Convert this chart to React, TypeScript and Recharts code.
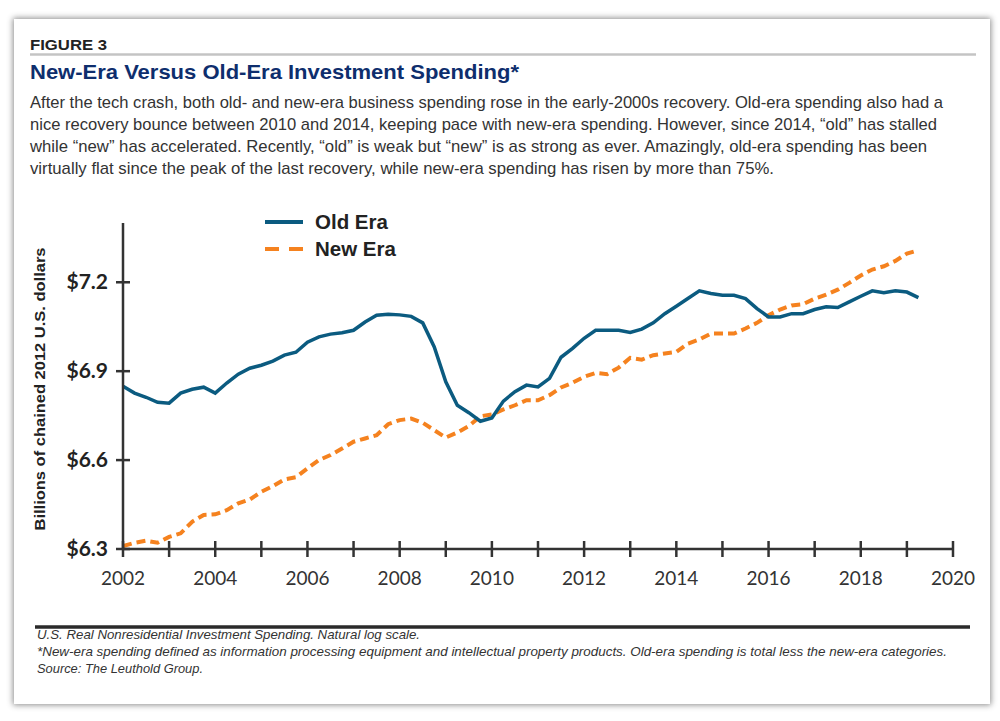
import { Legend, Line, LineChart, XAxis, YAxis } from 'recharts';

/* Quarterly readings, natural-log scale. */
const QUARTERS = [
  2002, 2002.25, 2002.5, 2002.75, 2003, 2003.25, 2003.5, 2003.75,
  2004, 2004.25, 2004.5, 2004.75, 2005, 2005.25, 2005.5, 2005.75,
  2006, 2006.25, 2006.5, 2006.75, 2007, 2007.25, 2007.5, 2007.75,
  2008, 2008.25, 2008.5, 2008.75, 2009, 2009.25, 2009.5, 2009.75,
  2010, 2010.25, 2010.5, 2010.75, 2011, 2011.25, 2011.5, 2011.75,
  2012, 2012.25, 2012.5, 2012.75, 2013, 2013.25, 2013.5, 2013.75,
  2014, 2014.25, 2014.5, 2014.75, 2015, 2015.25, 2015.5, 2015.75,
  2016, 2016.25, 2016.5, 2016.75, 2017, 2017.25, 2017.5, 2017.75,
  2018, 2018.25, 2018.5, 2018.75, 2019, 2019.25,
];

const OLD_ERA = [
  6.849, 6.826, 6.812, 6.795, 6.792, 6.826, 6.839, 6.846,
  6.826, 6.86, 6.89, 6.91, 6.92, 6.934, 6.954, 6.964,
  6.998, 7.016, 7.025, 7.03, 7.038, 7.066, 7.089, 7.092,
  7.09, 7.085, 7.063, 6.982, 6.864, 6.785, 6.76, 6.731,
  6.742, 6.799, 6.831, 6.853, 6.847, 6.876, 6.947, 6.977,
  7.011, 7.038, 7.038, 7.038, 7.031, 7.042, 7.063, 7.094,
  7.119, 7.145, 7.171, 7.162, 7.156, 7.156, 7.145, 7.111,
  7.083, 7.083, 7.094, 7.094, 7.108, 7.117, 7.115, 7.134,
  7.153, 7.171, 7.165, 7.171, 7.167, 7.148,
];

const NEW_ERA = [
  6.31, 6.321, 6.328, 6.321, 6.341, 6.353, 6.392, 6.415,
  6.417, 6.431, 6.454, 6.467, 6.493, 6.512, 6.535, 6.542,
  6.572, 6.6, 6.617, 6.639, 6.662, 6.673, 6.684, 6.721,
  6.735, 6.74, 6.726, 6.701, 6.676, 6.693, 6.715, 6.748,
  6.754, 6.771, 6.785, 6.802, 6.802, 6.819, 6.845, 6.861,
  6.881, 6.894, 6.89, 6.912, 6.945, 6.939, 6.954, 6.96,
  6.965, 6.993, 7.007, 7.027, 7.027, 7.027, 7.044, 7.063,
  7.089, 7.108, 7.122, 7.126, 7.145, 7.158, 7.175, 7.198,
  7.223, 7.243, 7.254, 7.272, 7.297, 7.308,
];

const YEAR_TICKS = [
  2002, 2003, 2004, 2005, 2006, 2007, 2008, 2009, 2010, 2011,
  2012, 2013, 2014, 2015, 2016, 2017, 2018, 2019, 2020,
];
const VALUE_TICKS = [6.3, 6.6, 6.9, 7.2];

const DESCRIPTION = [
  'After the tech crash, both old- and new-era business spending rose in the early-2000s recovery. Old-era spending also had a',
  'nice recovery bounce between 2010 and 2014, keeping pace with new-era spending. However, since 2014, \u201cold\u201d has stalled',
  'while \u201cnew\u201d has accelerated. Recently, \u201cold\u201d is weak but \u201cnew\u201d is as strong as ever. Amazingly, old-era spending has been',
  'virtually flat since the peak of the last recovery, while new-era spending has risen by more than 75%.',
];
const FOOTNOTES = [
  'U.S. Real Nonresidential Investment Spending. Natural log scale.',
  '*New-era spending defined as information processing equipment and intellectual property products. Old-era spending is total less the new-era categories.',
  'Source: The Leuthold Group.',
];

const OLD_COLOR = '#0b5b80';
const NEW_COLOR = '#f5821f';
const AXIS_COLOR = '#333333';
const TICK_FONT = 'Lato, "Open Sans", sans-serif';
const TEXT_FONT = '"Liberation Sans Narrow", "Liberation Sans", Arial, sans-serif';

const data = QUARTERS.map((t, i) => ({ t, oldEra: OLD_ERA[i], newEra: NEW_ERA[i] }));

function YearTick({ x, y, payload }: any) {
  const year = payload.value;
  return (
    <g>
      <line x1={x} x2={x} y1={y - 8} y2={y + 8} stroke={AXIS_COLOR} strokeWidth={2.5} />
      {year % 2 === 0 && (
        <text x={x} y={y + 36} textAnchor="middle" fontFamily={TICK_FONT} fontSize={19} fill="#333">
          {year}
        </text>
      )}
    </g>
  );
}

function ValueTick({ x, y, payload }: any) {
  return (
    <g>
      <line x1={x - 7} x2={x + 7} y1={y} y2={y} stroke={AXIS_COLOR} strokeWidth={2.5} />
      <text x={x - 15} y={y + 7} textAnchor="end" fontFamily={TICK_FONT} fontWeight={700} fontSize={21} fill="#222">
        ${payload.value.toFixed(1)}
      </text>
    </g>
  );
}

function EraLegend() {
  const rows = [
    { label: 'Old Era', color: OLD_COLOR, dash: undefined },
    { label: 'New Era', color: NEW_COLOR, dash: '14 10' },
  ];
  return (
    <svg width={160} height={56}>
      {rows.map((r, i) => (
        <g key={r.label} transform={`translate(0, ${i * 27})`}>
          <line x1={3} x2={41} y1={14} y2={14} stroke={r.color} strokeWidth={4} strokeDasharray={r.dash} />
          <text x={53} y={21} fontFamily='"Liberation Sans", Arial, sans-serif' fontWeight={700} fontSize={20.5} fill="#222">
            {r.label}
          </text>
        </g>
      ))}
    </svg>
  );
}

function AxisTitle({ viewBox }: any) {
  const cy = viewBox.y + viewBox.height / 2 + 3;
  return (
    <text
      x={45}
      y={cy}
      transform={`rotate(-90, 45, ${cy})`}
      textAnchor="middle"
      fontFamily='"Liberation Sans", Arial, sans-serif'
      fontWeight={700}
      fontSize={15}
      fill="#222"
      textLength={283}
      lengthAdjust="spacingAndGlyphs"
    >
      Billions of chained 2012 U.S. dollars
    </text>
  );
}

export default function App() {
  return (
    <div style={{ position: 'absolute', left: 0, top: 0, width: 1000, height: 721, background: '#fff' }}>
      <div
        style={{
          position: 'absolute',
          left: 14,
          top: 19,
          width: 976,
          height: 685,
          background: '#fff',
          boxShadow: '0 0 6px 1px rgba(0,0,0,0.45)',
        }}
      />
      <div style={{ position: 'absolute', left: 0, top: 0 }}>
        <LineChart width={1000} height={721} data={data} margin={{ top: 223, right: 47, bottom: 142, left: 63 }}>
          <XAxis
            dataKey="t"
            type="number"
            domain={[2002, 2020]}
            ticks={YEAR_TICKS}
            interval={0}
            height={30}
            tickSize={0}
            tickMargin={0}
            tick={<YearTick />}
            axisLine={{ stroke: AXIS_COLOR, strokeWidth: 2.5 }}
            tickLine={false}
            allowDataOverflow
          />
          <YAxis
            type="number"
            domain={[6.3, 7.4]}
            ticks={VALUE_TICKS}
            interval={0}
            width={60}
            tickSize={0}
            tickMargin={0}
            tick={<ValueTick />}
            axisLine={{ stroke: AXIS_COLOR, strokeWidth: 2.5 }}
            tickLine={false}
            label={{ content: <AxisTitle /> }}
            allowDataOverflow
          />
          <Legend
            layout="horizontal"
            verticalAlign="middle"
            align="center"
            content={<EraLegend />}
            wrapperStyle={{ position: 'absolute', left: 262, top: 208, width: 160 }}
          />
          <Line
            type="linear"
            dataKey="newEra"
            name="New Era"
            stroke={NEW_COLOR}
            strokeWidth={4}
            strokeDasharray="9 5"
            dot={false}
            isAnimationActive={false}
          />
          <Line
            type="linear"
            dataKey="oldEra"
            name="Old Era"
            stroke={OLD_COLOR}
            strokeWidth={3.5}
            dot={false}
            isAnimationActive={false}
          />
        </LineChart>
      </div>
      <svg width={1000} height={721} style={{ position: 'absolute', left: 0, top: 0, pointerEvents: 'none' }}>
        <text x={30} y={50} fontFamily='"Liberation Sans", Arial, sans-serif' fontWeight={700} fontSize={15} fill="#222" textLength={77} lengthAdjust="spacingAndGlyphs">
          FIGURE 3
        </text>
        <line x1={30} x2={976} y1={54.5} y2={54.5} stroke="#c4c4c4" strokeWidth={2.5} />
        <text x={30} y={79} fontFamily='"Liberation Sans", Arial, sans-serif' fontWeight={700} fontSize={21} fill="#0e2e6d" textLength={489} lengthAdjust="spacingAndGlyphs">
          New-Era Versus Old-Era Investment Spending*
        </text>
        {DESCRIPTION.map((line, i) => (
          <text
            key={i}
            x={30}
            y={108 + i * 22}
            fontFamily={TEXT_FONT}
            fontSize={17}
            fill="#333"
            textLength={[913, 907, 897, 744][i]}
            lengthAdjust="spacingAndGlyphs"
          >
            {line}
          </text>
        ))}
        <line x1={35} x2={970} y1={627} y2={627} stroke="#2a2a2a" strokeWidth={3.5} />
        {FOOTNOTES.map((line, i) => (
          <text
            key={i}
            x={37}
            y={639 + i * 17}
            fontFamily={TEXT_FONT}
            fontStyle="italic"
            fontSize={13}
            fill="#333"
            textLength={[383, 910, 166][i]}
            lengthAdjust="spacingAndGlyphs"
          >
            {line}
          </text>
        ))}
      </svg>
    </div>
  );
}
